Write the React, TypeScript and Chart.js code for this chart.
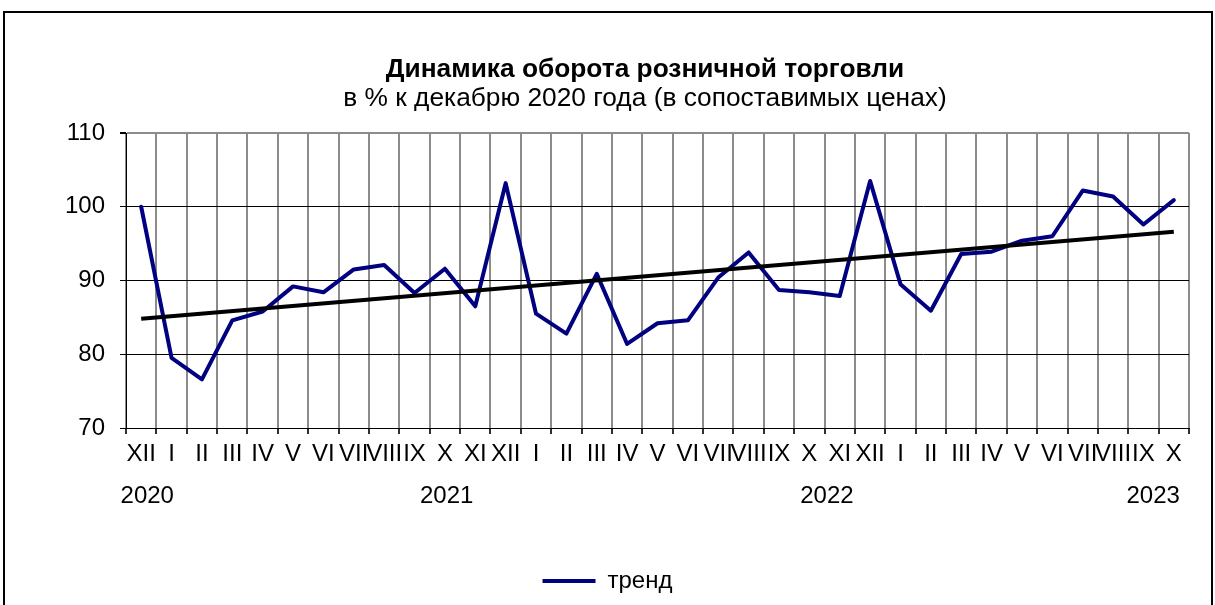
import React, { useEffect, useRef } from 'react';
import { Chart, registerables } from 'chart.js';

Chart.register(...registerables);

const FONT = '"Liberation Sans", Arial, sans-serif';

const titleText = 'Динамика оборота розничной торговли';
const subtitleText = 'в % к декабрю 2020 года (в сопоставимых ценах)';

const monthLabels = [
  'XII',
  'I', 'II', 'III', 'IV', 'V', 'VI', 'VII', 'VIII', 'IX', 'X', 'XI', 'XII',
  'I', 'II', 'III', 'IV', 'V', 'VI', 'VII', 'VIII', 'IX', 'X', 'XI', 'XII',
  'I', 'II', 'III', 'IV', 'V', 'VI', 'VII', 'VIII', 'IX', 'X',
];

const turnover = [
  100.0,
  79.5, 76.6, 84.6, 85.8, 89.2, 88.4, 91.5, 92.1, 88.3, 91.6, 86.5, 103.2,
  85.5, 82.8, 90.9, 81.4, 84.2, 84.6, 90.4, 93.8, 88.7, 88.4, 87.9, 103.5,
  89.5, 85.9, 93.6, 93.9, 95.4, 96.0, 102.2, 101.4, 97.6, 100.9,
];

const trendStart = 84.8;
const trendEnd = 96.6;

const yearLabels = ['2020', '2021', '2022', '2023'];
const yearPositions = [0.2, 10.06, 22.58, 33.32];

const yMin = 70;
const yMax = 110;
const yStep = 10;

const legendLabel = 'тренд';

const titlePlugin = {
  id: 'customTitles',
  afterDraw(chart: any) {
    const ctx = chart.ctx;
    ctx.save();
    ctx.fillStyle = '#000';
    ctx.textAlign = 'center';
    ctx.textBaseline = 'alphabetic';
    ctx.font = `bold 26.3px ${FONT}`;
    ctx.fillText(titleText, 645, 77);
    ctx.font = `26.3px ${FONT}`;
    ctx.fillText(subtitleText, 645, 106);
    ctx.restore();
  },
};

export default function App() {
  const canvasRef = useRef<HTMLCanvasElement | null>(null);

  useEffect(() => {
    if (!canvasRef.current) return;
    const last = monthLabels.length - 1;
    const trendData = monthLabels.map((_, i) =>
      i === 0 ? trendStart : i === last ? trendEnd : null
    );

    const chart = new Chart(canvasRef.current, {
      type: 'line',
      data: {
        labels: monthLabels,
        datasets: [
          {
            label: 'линейный тренд',
            data: trendData,
            borderColor: '#000000',
            backgroundColor: '#000000',
            borderWidth: 4,
            pointRadius: 0,
            spanGaps: true,
            tension: 0,
          },
          {
            label: legendLabel,
            data: turnover,
            borderColor: '#000080',
            backgroundColor: '#000080',
            borderWidth: 4,
            pointRadius: 0,
            tension: 0,
            borderJoinStyle: 'round',
            borderCapStyle: 'round',
          },
        ],
      },
      options: {
        responsive: false,
        animation: false,
        events: [],
        layout: { padding: { top: 133, left: 0, right: 0, bottom: 2 } },
        plugins: {
          title: { display: false },
          tooltip: { enabled: false },
          legend: {
            display: true,
            position: 'bottom',
            labels: {
              usePointStyle: true,
              pointStyle: 'line',
              pointStyleWidth: 53,
              color: '#000',
              padding: 1,
              font: { family: FONT, size: 24 },
              filter: (item: any) => item.datasetIndex === 1,
            },
          },
        },
        scales: {
          x: {
            type: 'category',
            position: 'bottom',
            weight: 0,
            offset: true,
            grid: {
              offset: true,
              color: '#8c8c8c',
              lineWidth: 2,
              tickColor: '#303030',
              tickLength: 6,
            },
            border: { color: '#000', width: 1 },
            ticks: {
              autoSkip: false,
              maxRotation: 0,
              minRotation: 0,
              padding: 6,
              color: '#000',
              font: { family: FONT, size: 24 },
            },
            afterFit: (s: any) => {
              s.height = 46;
            },
          },
          x2: {
            type: 'linear',
            position: 'bottom',
            weight: 1,
            min: -0.5,
            max: 34.5,
            bounds: 'data',
            grid: { display: false, drawTicks: false },
            border: { display: false },
            ticks: {
              autoSkip: false,
              maxRotation: 0,
              minRotation: 0,
              padding: 8,
              color: '#000',
              font: { family: FONT, size: 24 },
              callback: (_v: any, i: number) => yearLabels[i] ?? '',
            },
            afterBuildTicks: (s: any) => {
              s.ticks = yearPositions.map((v) => ({ value: v }));
            },
            afterFit: (s: any) => {
              s.height = 94;
            },
          },
          y: {
            type: 'linear',
            position: 'left',
            min: yMin,
            max: yMax,
            ticks: {
              stepSize: yStep,
              padding: 15,
              color: '#000',
              font: { family: FONT, size: 24 },
            },
            grid: {
              color: (c: any) => (c.tick && c.tick.value === yMax ? '#8c8c8c' : '#000'),
              lineWidth: (c: any) => (c.tick && c.tick.value === yMax ? 2 : 1),
              tickColor: '#000',
              tickLength: 6,
            },
            border: { color: '#000', width: 1 },
            afterFit: (s: any) => {
              s.width = 126;
            },
          },
          yRight: {
            type: 'linear',
            position: 'right',
            display: true,
            min: yMin,
            max: yMax,
            grid: { display: false, drawTicks: false },
            border: { display: false },
            ticks: { display: false },
            afterFit: (s: any) => {
              s.width = 26;
            },
          },
        },
      },
      plugins: [titlePlugin],
    } as any);

    return () => chart.destroy();
  }, []);

  return (
    <div style={{ position: 'fixed', left: 0, top: 0, width: 1215, height: 605, background: '#fff', overflow: 'hidden' }}>
      <div
        style={{
          position: 'absolute',
          left: 3,
          top: 11,
          width: 1210,
          height: 700,
          border: '2px solid #000',
          boxSizing: 'border-box',
        }}
      />
      <canvas
        ref={canvasRef}
        width={1215}
        height={605}
        style={{ position: 'absolute', left: 0, top: 0, width: 1215, height: 605 }}
      />
    </div>
  );
}
